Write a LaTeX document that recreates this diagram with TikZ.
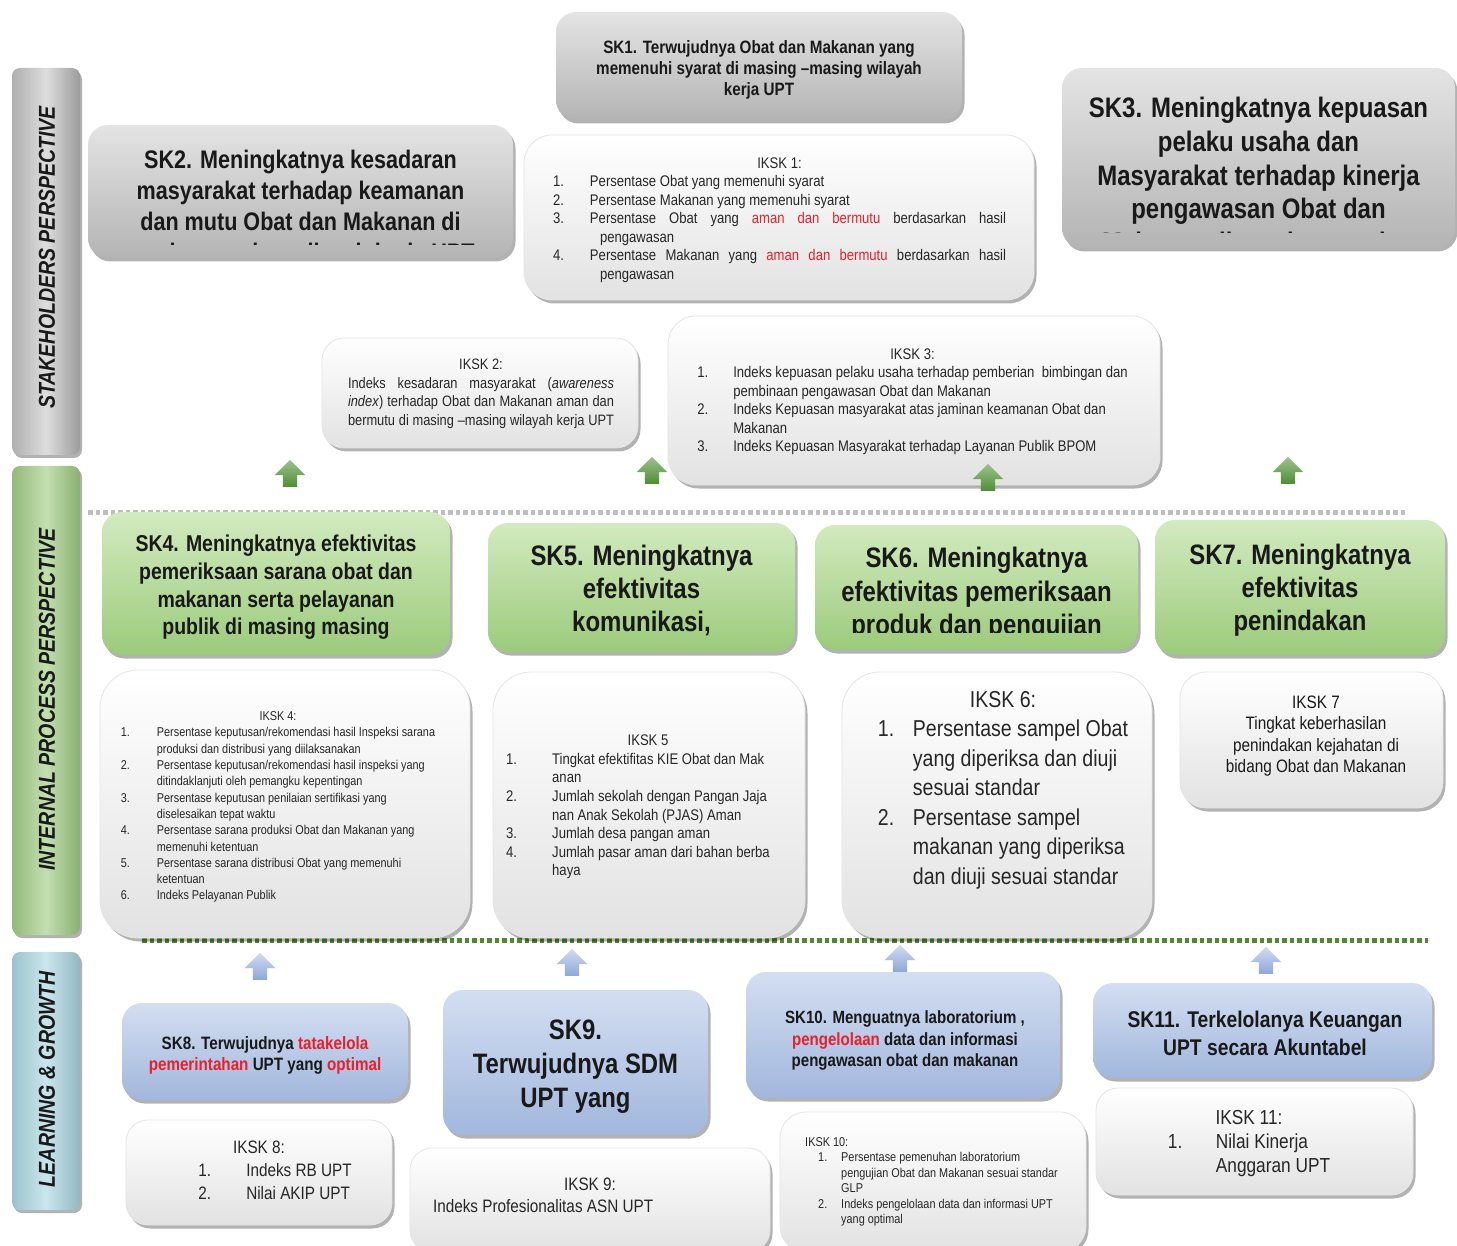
\documentclass[tikz,border=0pt]{standalone}
\usepackage{fontspec}
\setmainfont[FakeStretch=0.85]{Liberation Sans}
\usetikzlibrary{shadows,shapes.arrows}
\definecolor{rd}{HTML}{E8202A}
\definecolor{grayT}{HTML}{E4E4E4}
\definecolor{grayB}{HTML}{B4B4B4}
\definecolor{greenT}{HTML}{D2EABF}
\definecolor{greenB}{HTML}{9CCB7C}
\definecolor{blueT}{HTML}{D3DEF1}
\definecolor{blueB}{HTML}{A2B7DD}
\definecolor{whiteB}{HTML}{E2E2E2}
\definecolor{barGray}{HTML}{C2C2C2}
\definecolor{barGreen}{HTML}{A3CE86}
\definecolor{barBlue}{HTML}{ADD8E3}
\definecolor{cArrG}{HTML}{4E8F32}
\definecolor{cArrB}{HTML}{8DA7D8}
\definecolor{dotGray}{HTML}{BEBEBE}
\definecolor{dotGreen}{HTML}{4F8A2B}
\newcommand\fsz[2]{\fontsize{#1}{#2}\selectfont}
\newcommand\rt[1]{\textcolor{rd}{#1}}
\tikzset{
  boxbase/.style={rounded corners=20pt, inner sep=0pt, draw=none,
    drop shadow={shadow xshift=2.5pt, shadow yshift=-3.5pt, opacity=0.3, fill=black}},
  skgray/.style={boxbase, top color=grayT, bottom color=grayB},
  skgreen/.style={boxbase, top color=greenT, bottom color=greenB},
  skblue/.style={boxbase, top color=blueT, bottom color=blueB},
  ikbox/.style={boxbase, rounded corners=28pt, top color=white, bottom color=whiteB, draw=black!10, line width=0.8pt},
  sidebar/.style={rounded corners=8pt, inner sep=0pt, minimum width=68pt, draw=none,
    drop shadow={shadow xshift=2pt, shadow yshift=-3pt, opacity=0.3, fill=black}},
  bartext/.style={rotate=90, inner sep=0pt, text=black!90, font={\fsz{23}{27}\bfseries\itshape}},
  ttl/.style={align=center, text=black!90, inner sep=0pt, yshift=-2pt},
  txt/.style={inner sep=0pt, text=black!85, yshift=-2pt},
  upG/.style={single arrow, shape border rotate=90, inner sep=0pt, minimum height=27pt,
    minimum width=30pt, single arrow head extend=8pt, top color=cArrG!55!white, bottom color=cArrG, draw=none},
  upB/.style={upG, top color=cArrB!40!white, bottom color=cArrB}
}
\newcommand\shaft{\rule{0pt}{14pt}\hspace*{14pt}}
\begin{document}
\begin{tikzpicture}[x=1pt,y=-1pt]
\useasboundingbox (0,0) rectangle (1457,1246);
\fill[white] (0,0) rectangle (1457,1246);

% separator lines
\coordinate (d1a) at (88,512); \coordinate (d1b) at (1405,512);
\coordinate (d2a) at (142,940); \coordinate (d2b) at (1428,940);
\draw[line width=5pt, dash pattern=on 4.5pt off 3pt, dotGray] (d1a) -- (d1b);
\draw[line width=5pt, dash pattern=on 4.5pt off 3pt, dotGreen] (d2a) -- (d2b);

% side bars
\node[sidebar, minimum height=387pt, left color=barGray!90!black, right color=barGray!80!black, middle color=barGray!55!white] (bar1) at (46,261.5) {};
\node[bartext] (bar1t) at (47,257.5) {STAKEHOLDERS PERSPECTIVE};
\node[sidebar, minimum height=469pt, left color=barGreen!90!black, right color=barGreen!85!black, middle color=barGreen!65!white] (bar2) at (46,700.5) {};
\node[bartext] (bar2t) at (47,699.5) {INTERNAL PROCESS PERSPECTIVE};
\node[sidebar, minimum height=258pt, left color=barBlue!90!black, right color=barBlue!85!black, middle color=barBlue!65!white] (bar3) at (46,1081) {};
\node[bartext] (bar3t) at (47,1079) {LEARNING \& GROWTH};

% ---------- stakeholders ----------
\node[skgray, minimum width=406pt, minimum height=108pt] (sk1) at (759,66) {};
\node[ttl, font={\fsz{17.9}{21}\bfseries}] (sk1t) at (759,68) {SK1. Terwujudnya Obat dan Makanan yang\\memenuhi syarat di masing –masing wilayah\\kerja UPT};

\node[skgray, minimum width=425pt, minimum height=133pt] (sk2) at (300.5,191.5) {};
\begin{scope}
\clip (sk2.north west) rectangle ([yshift=14pt]sk2.south east);
\node[ttl, font={\fsz{25.4}{31}\bfseries}] (sk2t) at (300.5,206) {SK2. Meningkatnya kesadaran\\masyarakat terhadap keamanan\\dan mutu Obat dan Makanan di\\masing-masing wilayah kerja UPT};
\end{scope}

\node[skgray, minimum width=393pt, minimum height=180pt] (sk3) at (1258.5,158) {};
\begin{scope}
\clip (sk3.north west) rectangle ([yshift=16pt]sk3.south east);
\node[ttl, font={\fsz{28.2}{33.7}\bfseries}] (sk3t) at (1258.5,176) {SK3. Meningkatnya kepuasan\\pelaku usaha dan\\Masyarakat terhadap kinerja\\pengawasan Obat dan\\Makanan di masing-masing};
\end{scope}

\node[ikbox, minimum width=510pt, minimum height=165pt] (ik1) at (779,217.5) {};
\node[txt, font={\fsz{15.4}{18.5}}] (ik1t) at (779.5,218) {%
\begin{tabular}{@{}p{37pt}@{}l@{}}
\multicolumn{2}{c}{IKSK 1:}\\
1. & Persentase Obat yang memenuhi syarat\\
2. & Persentase Makanan yang memenuhi syarat\\
3. & \makebox[416pt][s]{Persentase Obat yang \rt{aman dan bermutu} berdasarkan hasil}\\
 & \hspace*{10pt}pengawasan\\
4. & \makebox[416pt][s]{Persentase Makanan yang \rt{aman dan bermutu} berdasarkan hasil}\\
 & \hspace*{10pt}pengawasan
\end{tabular}};

\node[ikbox, rounded corners=22pt, minimum width=316pt, minimum height=110pt] (ik2) at (480,393) {};
\node[txt, font={\fsz{15.1}{18.5}}] (ik2t) at (481,392) {%
\begin{tabular}{@{}l@{}}
\multicolumn{1}{c}{IKSK 2:}\\
\makebox[266pt][s]{Indeks kesadaran masyarakat (\textit{awareness}}\\
\makebox[266pt][s]{\textit{index}) terhadap Obat dan Makanan aman dan}\\
\makebox[266pt][s]{bermutu di masing –masing wilayah kerja UPT}
\end{tabular}};

\node[ikbox, minimum width=492pt, minimum height=169pt] (ik3) at (914,400.5) {};
\node[txt, font={\fsz{15.4}{18.5}}] (ik3t) at (912.5,400) {%
\begin{tabular}{@{}p{36pt}@{}l@{}}
\multicolumn{2}{c}{IKSK 3:}\\
1. & Indeks kepuasan pelaku usaha terhadap pemberian\ \ bimbingan dan\\
 & pembinaan pengawasan Obat dan Makanan\\
2. & Indeks Kepuasan masyarakat atas jaminan keamanan Obat dan\\
 & Makanan\\
3. & Indeks Kepuasan Masyarakat terhadap Layanan Publik BPOM
\end{tabular}};

% ---------- internal process ----------
\node[skgreen, minimum width=348pt, minimum height=143pt] (sk4) at (276,583.5) {};
\node[ttl, font={\fsz{22.9}{27.7}\bfseries}] (sk4t) at (276,585.5) {SK4. Meningkatnya efektivitas\\pemeriksaan sarana obat dan\\makanan serta pelayanan\\publik di masing masing};

\node[skgreen, minimum width=307pt, minimum height=129pt] (sk5) at (641.5,587.5) {};
\node[ttl, font={\fsz{28.2}{33}\bfseries}] (sk5t) at (641.5,588) {SK5. Meningkatnya\\efektivitas\\komunikasi,};

\node[skgreen, minimum width=323pt, minimum height=125pt] (sk6) at (976.5,587.5) {};
\begin{scope}
\clip (sk6.north west) rectangle ([yshift=18pt]sk6.south east);
\node[ttl, font={\fsz{28.2}{33.5}\bfseries}] (sk6t) at (976.5,592) {SK6. Meningkatnya\\efektivitas pemeriksaan\\produk dan pengujian};
\end{scope}

\node[skgreen, minimum width=290pt, minimum height=135pt] (sk7) at (1300,587.5) {};
\node[ttl, font={\fsz{28.1}{33}\bfseries}] (sk7t) at (1300,588) {SK7. Meningkatnya\\efektivitas\\penindakan};

\node[ikbox, rounded corners=38pt, minimum width=370pt, minimum height=268pt] (ik4) at (285,804) {};
\node[txt, font={\fsz{12.8}{16.3}}] (ik4t) at (278,805) {%
\begin{tabular}{@{}p{36pt}@{}l@{}}
\multicolumn{2}{c}{IKSK 4:}\\
1. & Persentase keputusan/rekomendasi hasil Inspeksi sarana\\
 & produksi dan distribusi yang diilaksanakan\\
2. & Persentase keputusan/rekomendasi hasil inspeksi yang\\
 & ditindaklanjuti oleh pemangku kepentingan\\
3. & Persentase keputusan penilaian sertifikasi yang\\
 & diselesaikan tepat waktu\\
4. & Persentase sarana produksi Obat dan Makanan yang\\
 & memenuhi ketentuan\\
5. & Persentase sarana distribusi Obat yang memenuhi\\
 & ketentuan\\
6. & Indeks Pelayanan Publik
\end{tabular}};

\node[ikbox, rounded corners=38pt, minimum width=312pt, minimum height=266pt] (ik5) at (649,805) {};
\node[txt, font={\fsz{15.4}{18.6}}] (ik5t) at (638,805) {%
\begin{tabular}{@{}p{46pt}@{}l@{}}
\multicolumn{2}{c}{\hspace*{20pt}IKSK 5}\\
1. & Tingkat efektifitas KIE Obat dan Mak\\
 & anan\\
2. & Jumlah sekolah dengan Pangan Jaja\\
 & nan Anak Sekolah (PJAS) Aman\\
3. & Jumlah desa pangan aman\\
4. & Jumlah pasar aman dari bahan berba\\
 & haya
\end{tabular}};

\node[ikbox, rounded corners=38pt, minimum width=310pt, minimum height=266pt] (ik6) at (997,805) {};
\node[txt, font={\fsz{23}{29.5}}] (ik6t) at (1003,788) {%
\begin{tabular}{@{}p{35pt}@{}l@{}}
\multicolumn{2}{c}{IKSK 6:}\\
1. & Persentase sampel Obat\\
 & yang diperiksa dan diuji\\
 & sesuai standar\\
2. & Persentase sampel\\
 & makanan yang diperiksa\\
 & dan diuji sesuai standar
\end{tabular}};

\node[ikbox, rounded corners=26pt, minimum width=263pt, minimum height=136pt] (ik7) at (1311.5,740) {};
\node[ttl, font={\fsz{18}{21.5}}] (ik7t) at (1316,734) {IKSK 7\\Tingkat keberhasilan\\penindakan kejahatan di\\bidang Obat dan Makanan};

% ---------- learning & growth ----------
\node[skblue, minimum width=286pt, minimum height=97pt] (sk8) at (265,1051.5) {};
\node[ttl, font={\fsz{17.9}{21}\bfseries}] (sk8t) at (265,1053.5) {SK8. Terwujudnya \rt{tatakelola}\\\rt{pemerintahan} UPT yang \rt{optimal}};

\node[skblue, minimum width=265pt, minimum height=145pt] (sk9) at (575.5,1062.5) {};
\node[ttl, font={\fsz{28.1}{34}\bfseries}] (sk9t) at (575.5,1065) {SK9.\\Terwujudnya SDM\\UPT yang};

\node[skblue, minimum width=314pt, minimum height=126pt] (sk10) at (903,1035) {};
\node[ttl, font={\fsz{17.7}{21.5}\bfseries}] (sk10t) at (905,1038.5) {SK10. Menguatnya laboratorium ,\\\rt{pengelolaan} data dan informasi\\pengawasan obat dan makanan};

\node[skblue, minimum width=339pt, minimum height=95pt] (sk11) at (1262.5,1030.5) {};
\node[ttl, font={\fsz{22.7}{28}\bfseries}] (sk11t) at (1265,1031) {SK11. Terkelolanya Keuangan\\UPT secara Akuntabel};

\node[ikbox, rounded corners=22pt, minimum width=266pt, minimum height=105pt] (ik8) at (259,1172.5) {};
\node[txt, font={\fsz{18}{23}}] (ik8t) at (275,1169.5) {%
\begin{tabular}{@{}p{48pt}@{}l@{}}
\multicolumn{2}{c}{IKSK 8:\hspace*{32pt}}\\
1. & Indeks RB UPT\\
2. & Nilai AKIP UPT
\end{tabular}};

\node[ikbox, rounded corners=22pt, minimum width=360pt, minimum height=104pt] (ik9) at (590,1200) {};
\node[txt, font={\fsz{18}{22}}] (ik9t) at (590,1195) {%
\begin{tabular}{@{}p{314pt}@{}}
\multicolumn{1}{c}{IKSK 9:}\\
Indeks Profesionalitas ASN UPT
\end{tabular}};

\node[ikbox, rounded corners=26pt, minimum width=306pt, minimum height=140pt] (ik10) at (933,1182) {};
\node[txt, font={\fsz{12.8}{15.5}}] (ik10t) at (931.5,1180) {%
\begin{tabular}{@{}p{36pt}@{}l@{}}
\multicolumn{2}{@{}l}{IKSK 10:}\\
\hspace*{13pt}1. & Persentase pemenuhan laboratorium\\
 & pengujian Obat dan Makanan sesuai standar\\
 & GLP\\
\hspace*{13pt}2. & Indeks pengelolaan data dan informasi UPT\\
 & yang optimal
\end{tabular}};

\node[ikbox, rounded corners=22pt, minimum width=317pt, minimum height=107pt] (ik11) at (1254.5,1141.5) {};
\node[txt, font={\fsz{20.3}{24}}] (ik11t) at (1249,1141.5) {%
\begin{tabular}{@{}p{48pt}@{}l@{}}
\multicolumn{2}{c}{IKSK 11:}\\
1. & Nilai Kinerja\\
 & Anggaran UPT
\end{tabular}};

% ---------- arrows ----------
\node[upG] (ag1) at (290,477) {\shaft};
\node[upG] (ag2) at (652,474) {\shaft};
\node[upG] (ag3) at (988,481) {\shaft};
\node[upG] (ag4) at (1288,474) {\shaft};
\node[upB] (ab1) at (260,970) {\shaft};
\node[upB] (ab2) at (572,966) {\shaft};
\node[upB] (ab3) at (900,962) {\shaft};
\node[upB] (ab4) at (1266,964) {\shaft};
\end{tikzpicture}
\end{document}
